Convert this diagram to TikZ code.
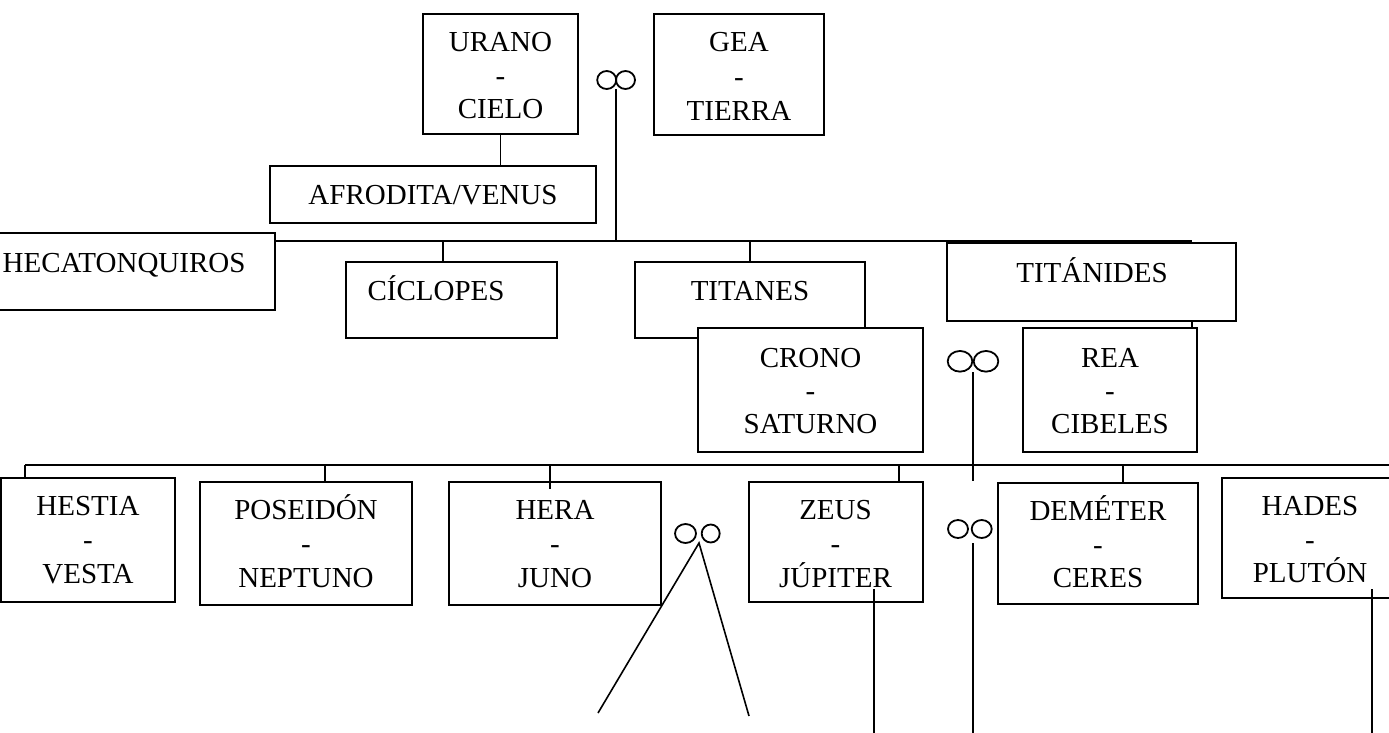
\documentclass[tikz,border=0pt]{standalone}
\usepackage{fontspec}
\setmainfont{Liberation Serif}
\usetikzlibrary{shapes.geometric}
\newcommand\mkbox[5]{\node[bx, minimum width={(#4)-(#2)}, minimum height={(#5)-(#3)}] (#1) at ({((#2)+(#4))/2},{((#3)+(#5))/2}) {};}
\newcommand\mktxt[4]{\node[txt] (#1) at (#2,#3) {#4};}
\begin{document}
\begin{tikzpicture}[x=1pt,y=-1pt,
  bx/.style={draw, line width=2pt, fill=white, inner sep=0pt, outer sep=0pt},
  txt/.style={font=\fontsize{29}{33}\selectfont, inner sep=0pt, anchor=base},
  con/.style={line width=1.6pt},
  ring/.style={draw, ellipse, line width=1.8pt, inner sep=0pt, outer sep=0pt}]
\useasboundingbox (0,0) rectangle (1389,733);

% ---------- first generation ----------
\mkbox{urano}{423}{14}{578}{134}
\mktxt{urano1}{500.5}{52}{URANO}
\mktxt{urano2}{500.5}{85.5}{-}
\mktxt{urano3}{500.5}{119}{CIELO}

\mkbox{gea}{654}{14}{824}{135}
\mktxt{gea1}{739}{52}{GEA}
\mktxt{gea2}{739}{87}{-}
\mktxt{gea3}{739}{121}{TIERRA}

\node[ring, minimum width=19, minimum height=18] (r1a) at (606.7,80) {};
\node[ring, minimum width=19, minimum height=18] (r1b) at (625.5,80) {};

\mkbox{afro}{270}{166}{596}{223}
\mktxt{afro1}{433}{204}{AFRODITA/VENUS}

% ---------- second generation ----------
\mkbox{heca}{-5}{233}{275}{310}
\node[txt, anchor=base west] (heca1) at (2.5,272) {HECATONQUIROS};

\mkbox{cic}{346}{262}{557}{338}
\mktxt{cic1}{436}{300}{CÍCLOPES}

\mkbox{tit}{635}{262}{865}{338}
\mktxt{tit1}{750}{300}{TITANES}

\mkbox{titn}{947}{243}{1236}{321}
\mktxt{titn1}{1092}{282}{TITÁNIDES}

\mkbox{crono}{698}{328}{923}{452}
\mktxt{crono1}{810.5}{367}{CRONO}
\mktxt{crono2}{810.5}{400}{-}
\mktxt{crono3}{810.5}{433}{SATURNO}

\mkbox{rea}{1023}{328}{1197}{452}
\mktxt{rea1}{1110}{367}{REA}
\mktxt{rea2}{1110}{400}{-}
\mktxt{rea3}{1110}{433}{CIBELES}

\node[ring, minimum width=24.6, minimum height=20.7] (r2a) at (960,361.3) {};
\node[ring, minimum width=24.6, minimum height=20.7] (r2b) at (986,361.3) {};

% ---------- third generation ----------
\mkbox{hestia}{1}{478}{175}{602}
\mktxt{hestia1}{88}{515}{HESTIA}
\mktxt{hestia2}{88}{549}{-}
\mktxt{hestia3}{88}{583}{VESTA}

\mkbox{pos}{200}{482}{412}{605}
\mktxt{pos1}{306}{519}{POSEIDÓN}
\mktxt{pos2}{306}{553}{-}
\mktxt{pos3}{306}{587}{NEPTUNO}

\mkbox{hera}{449}{482}{661}{605}
\mktxt{hera1}{555}{519}{HERA}
\mktxt{hera2}{555}{553}{-}
\mktxt{hera3}{555}{587}{JUNO}

\mkbox{zeus}{749}{482}{923}{602}
\mktxt{zeus1}{835.5}{519}{ZEUS}
\mktxt{zeus2}{835.5}{553}{-}
\mktxt{zeus3}{835.5}{587}{JÚPITER}

\mkbox{dem}{998}{483}{1198}{604}
\mktxt{dem1}{1098}{520.5}{DEMÉTER}
\mktxt{dem2}{1098}{554}{-}
\mktxt{dem3}{1098}{587.5}{CERES}

\mkbox{hades}{1222}{478}{1400}{598}
\mktxt{hades1}{1310}{515}{HADES}
\mktxt{hades2}{1310}{549}{-}
\mktxt{hades3}{1310}{582.5}{PLUTÓN}

\node[ring, minimum width=21, minimum height=19] (r3a) at (685.5,533.5) {};
\node[ring, minimum width=18, minimum height=18] (r3b) at (710.7,533.5) {};

\node[ring, minimum width=20, minimum height=18] (r4a) at (958,529) {};
\node[ring, minimum width=20, minimum height=18] (r4b) at (981.7,529) {};

% ---------- connectors ----------
\draw[con] (urano.south) -- (urano.south |- afro.north);

\coordinate (j1) at (616,89);
\coordinate (b1) at (616,241);
\draw[con] (j1) -- (b1);
\coordinate (b1l) at (275,241);
\coordinate (b1r) at (1192,241);
\draw[con] (b1l) -- (b1r);
\coordinate (c1) at (443,241);
\draw[con] (c1) -- (c1 |- cic.north);
\coordinate (c2) at (750,241);
\draw[con] (c2) -- (c2 |- tit.north);
\coordinate (c3) at (1192,321);
\draw[con] (c3) -- (c3 |- rea.north);

\coordinate (j2) at (973,372);
\coordinate (j2e) at (973,481);
\draw[con] (j2) -- (j2e);

\coordinate (b2l) at (25,465);
\coordinate (b2r) at (1395,465);
\draw[con] (b2l) -- (b2r);
\draw[con] (b2l) -- (b2l |- hestia.north);
\coordinate (d1) at (325,465);
\draw[con] (d1) -- (d1 |- pos.north);
\coordinate (d2) at (550,465);
\draw[con] (d2) -- (550,489);
\coordinate (d3) at (899,465);
\draw[con] (d3) -- (d3 |- zeus.north);
\coordinate (d4) at (1123,465);
\draw[con] (d4) -- (d4 |- dem.north);

\coordinate (j3) at (699,543);
\coordinate (e3a) at (598,713);
\coordinate (e3b) at (749,716);
\draw[con] (e3a) -- (j3) -- (e3b);

\coordinate (j4) at (973,543);
\coordinate (e4) at (973,735);
\draw[con] (j4) -- (e4);

\coordinate (z1) at (874,589);
\draw[con] (z1) -- (z1 |- e4);
\coordinate (h1) at (1372,589);
\draw[con] (h1) -- (h1 |- e4);
\end{tikzpicture}
\end{document}
